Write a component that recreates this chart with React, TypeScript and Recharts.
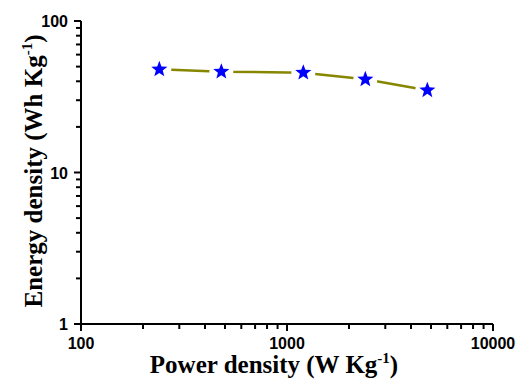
import React from 'react';
import { LineChart, Line, XAxis, YAxis } from 'recharts';

const powerDensity = [240, 480, 1200, 2400, 4800];
const energyDensity = [48, 46.3, 45.6, 41.2, 34.9];

const xMajorTicks = [100, 1000, 10000];
const xMinorTicks = [200, 300, 400, 500, 600, 700, 800, 900, 2000, 3000, 4000, 5000, 6000, 7000, 8000, 9000];
const yMajorTicks = [1, 10, 100];
const yMinorTicks = [2, 3, 4, 5, 6, 7, 8, 9, 20, 30, 40, 50, 60, 70, 80, 90];

const data = powerDensity.map((p, i) => ({ power: p, energy: energyDensity[i] }));

const tickFont = { fontFamily: '"Liberation Sans", Arial, sans-serif', fontWeight: 700, fontSize: 16, fill: '#000' };
const labelFont = { fontFamily: '"Liberation Serif", "Times New Roman", serif', fontWeight: 700, fontSize: 25, fill: '#000' };

// ticks drawn by hand so minor (unlabelled) ones can be shorter
const XTick = (props: any) => {
  const { x, y, payload } = props;
  const major = xMajorTicks.includes(payload.value);
  return (
    <g>
      <path d={`M${x},${y}V${y + (major ? 7 : 5)}`} stroke="#000" strokeWidth={2} />
      {major && (
        <text x={x} y={y + 25} textAnchor="middle" style={tickFont}>
          {payload.value}
        </text>
      )}
    </g>
  );
};

const YTick = (props: any) => {
  const { x, y, payload } = props;
  const major = yMajorTicks.includes(payload.value);
  return (
    <g>
      <path d={`M${x},${y}H${x - (major ? 7 : 5)}`} stroke="#000" strokeWidth={2} />
      {major && (
        <text x={x - 13} y={y + 6} textAnchor="end" style={tickFont}>
          {payload.value}
        </text>
      )}
    </g>
  );
};

const StarDot = (props: any) => {
  const { cx, cy } = props;
  if (cx == null || cy == null) return null;
  const pts: string[] = [];
  for (let i = 0; i < 10; i++) {
    const r = i % 2 === 0 ? 8.5 : 3.6;
    const a = -Math.PI / 2 + (i * Math.PI) / 5;
    pts.push(`${cx + r * Math.cos(a)},${cy + r * Math.sin(a)}`);
  }
  return (
    <g>
      {/* white disc leaves the gap between line and marker */}
      <circle cx={cx} cy={cy} r={12} fill="#fff" />
      <polygon points={pts.join(' ')} fill="#0000ff" />
    </g>
  );
};

const XLabel = () => (
  <text x={274} y={373} textAnchor="middle" style={labelFont}>
    Power density (W Kg<tspan dy={-10} fontSize={15}>-1</tspan>
    <tspan dy={10}>)</tspan>
  </text>
);

const YLabel = () => {
  const cx = 42;
  const cy = 171;
  return (
    <text x={cx} y={cy} transform={`rotate(-90 ${cx} ${cy})`} textAnchor="middle" style={labelFont}>
      Energy density (Wh Kg<tspan dy={-10} fontSize={15}>-1</tspan>
      <tspan dy={10}>)</tspan>
    </text>
  );
};

export default function App() {
  return (
    <div style={{ position: 'fixed', left: 0, top: 0, width: 519, height: 379, background: '#fff' }}>
      <LineChart width={519} height={379} data={data} margin={{ top: 21, right: 26, bottom: 0, left: 0 }}>
        <XAxis
          dataKey="power"
          type="number"
          scale="log"
          domain={[100, 10000]}
          allowDataOverflow
          ticks={[...xMajorTicks, ...xMinorTicks]}
          interval={0}
          tickSize={0}
          tickMargin={0}
          tick={<XTick />}
          tickLine={false}
          axisLine={{ stroke: '#000', strokeWidth: 2 }}
          height={55}
          label={<XLabel />}
        />
        <XAxis
          xAxisId="top"
          orientation="top"
          dataKey="power"
          type="number"
          scale="log"
          domain={[100, 10000]}
          allowDataOverflow
          tick={false}
          tickLine={false}
          axisLine={{ stroke: '#000', strokeWidth: 2 }}
          height={0}
        />
        <YAxis
          dataKey="energy"
          type="number"
          scale="log"
          domain={[1, 100]}
          allowDataOverflow
          ticks={[...yMajorTicks, ...yMinorTicks]}
          interval={0}
          tickSize={0}
          tickMargin={0}
          tick={<YTick />}
          tickLine={false}
          axisLine={{ stroke: '#000', strokeWidth: 2 }}
          width={81}
          label={<YLabel />}
        />
        <YAxis
          yAxisId="right"
          orientation="right"
          type="number"
          scale="log"
          domain={[1, 100]}
          allowDataOverflow
          tick={false}
          tickLine={false}
          axisLine={{ stroke: '#000', strokeWidth: 2 }}
          width={0}
        />
        <Line
          dataKey="energy"
          stroke="#868600"
          strokeWidth={2.5}
          dot={<StarDot />}
          activeDot={false}
          isAnimationActive={false}
        />
      </LineChart>
    </div>
  );
}
